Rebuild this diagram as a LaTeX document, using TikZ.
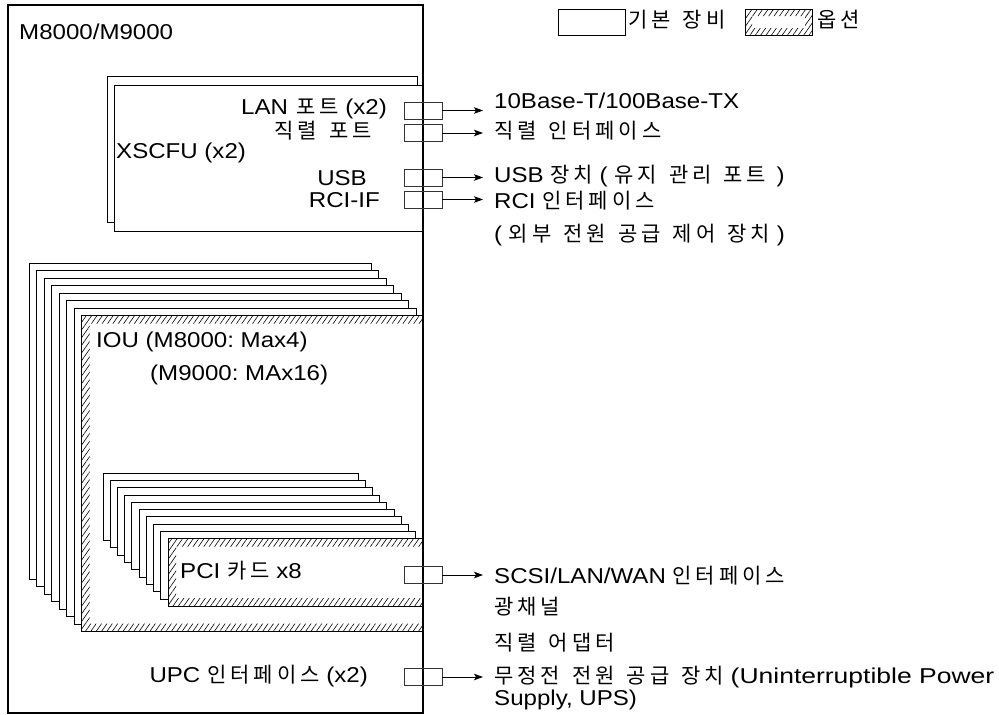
\documentclass[tikz,border=0pt]{standalone}
\usepackage{graphicx}
\usepackage{fontspec}
\setmainfont{Liberation Sans}[FakeStretch=1.12]
\newfontfamily\kfont{Noto Sans CJK KR}[LetterSpace=19]
\newcommand\K[1]{{\kfont\fontsize{21}{25}\selectfont\spaceskip=12pt\relax #1}}
\usetikzlibrary{arrows.meta,patterns.meta}
\begin{document}
\frenchspacing
\begin{tikzpicture}[x=1pt,y=-1pt,
  lbl/.style={inner sep=0pt,font=\fontsize{21.5}{25}\selectfont},
  box/.style={draw=black,line width=0.8pt,fill=white},
  port/.style={draw=black!80,line width=0.8pt,minimum width=38pt,minimum height=17pt,inner sep=0pt},
  conn/.style={line width=0.8pt,-{Stealth[length=9pt,width=6.5pt,inset=2pt]},shorten >=11pt},
  hatch/.style={pattern={Lines[angle=55,distance=4.4pt,line width=0.6pt]},pattern color=black},
]
\useasboundingbox (0,0) rectangle (999,715);
% main enclosure
\draw[box,line width=1.1pt] (8,5) rectangle (423,713);
\node[lbl,anchor=base west] (title) at (19,39) {M8000/M9000};
% legend
\node[draw,line width=0.8pt,minimum width=67pt,minimum height=26pt,inner sep=0pt] (legstd) at (591.5,22) {};
\node[lbl,anchor=base west] (legstdt) at (628,27) {\K{기본 장비}};
\fill[hatch,even odd rule] (745,9) rectangle (812,35) (752,16) rectangle (805,28);
\node[draw,line width=0.8pt,minimum width=67pt,minimum height=26pt,inner sep=0pt] (legopt) at (778.5,22) {};
\node[lbl,anchor=base west] (legoptt) at (817,27) {\K{옵션}};
% XSCFU
\draw[box] (107,76) rectangle (417,222);
\draw[box] (114,85) rectangle (423,231);
\node[lbl,anchor=base east] (lan) at (387,114) {LAN\hspace{8pt}\K{포트} (x2)};
\node[lbl,anchor=base east] (ser) at (372,138) {\K{직렬 포트}};
\node[lbl,anchor=base west] (xscfu) at (116,158) {XSCFU (x2)};
\node[lbl,anchor=base east] (usb) at (367,185) {USB};
\node[lbl,anchor=base east] (rci) at (380,207) {RCI-IF};
% IOU stack
\foreach \i in {0,...,6}{\draw[box] (29+7.5*\i,263+7.5*\i) rectangle ++(342,316);}
\draw[box] (81.5,315.5) rectangle (423,631.5);
\fill[hatch,even odd rule] (81.5,315.5) rectangle (423,631.5) (89.5,323.5) rectangle (423,623.5);
\node[lbl,anchor=base west] (iou1) at (96,347) {IOU (M8000: Max4)};
\node[lbl,anchor=base west] (iou2) at (150,380) {(M9000: MAx16)};
% PCI stack
\foreach \i in {0,...,8}{\draw[box] (103+7.22*\i,473+7.3*\i) rectangle ++(255,67.5);}
\draw[box] (168,538.7) rectangle (423,606.2);
\fill[hatch,even odd rule] (168,538.7) rectangle (423,606.2) (176,546.7) rectangle (423,598.2);
\node[lbl,anchor=base west] (pci) at (180,578) {PCI \K{카드} x8};
\node[lbl,anchor=base east] (upc) at (368,682) {UPC \K{인터페이스} (x2)};
% main right edge on top
\draw[line width=1.1pt] (423,5) -- (423,713);
% ports
\node[port] (pLAN) at (423,110.5) {};
\node[port] (pSER) at (423,133) {};
\node[port] (pUSB) at (423,177.5) {};
\node[port] (pRCI) at (423,199.5) {};
\node[port] (pPCI) at (423,575) {};
\node[port] (pUPC) at (423,677) {};
% external labels
\node[lbl,anchor=base west] (tLAN) at (494,108) {10Base-T/100Base-TX};
\node[lbl,anchor=base west] (tSER) at (494,138) {\K{직렬 인터페이스}};
\node[lbl,anchor=base west] (tUSB) at (494,182) {USB \K{장치} ( \K{유지 관리 포트} \,)};
\node[lbl,anchor=base west] (tRCI) at (494,208) {RCI \K{인터페이스}};
\node[lbl,anchor=base west] (tRCI2) at (494,241) {( \K{외부 전원 공급 제어 장치} )};
\node[lbl,anchor=base west] (tPCI) at (494,583) {SCSI/LAN/WAN \K{인터페이스}};
\node[lbl,anchor=base west] (tPCI2) at (494,614) {\K{광채널}};
\node[lbl,anchor=base west] (tPCI3) at (494,650) {\K{직렬 어댑터}};
\node[lbl,anchor=base west] (tUPC) at (494,683) {\K{무정전 전원 공급 장치} \scalebox{1.1}[1]{(Uninterruptible Power}};
\node[lbl,anchor=base west] (tUPC2) at (494,705) {Supply, UPS)};
% connectors
\draw[conn] (pLAN.east) -- (pLAN.east -| tLAN.west);
\draw[conn] (pSER.east) -- (pSER.east -| tSER.west);
\draw[conn] (pUSB.east) -- (pUSB.east -| tUSB.west);
\draw[conn] (pRCI.east) -- (pRCI.east -| tRCI.west);
\draw[conn] (pPCI.east) -- (pPCI.east -| tPCI.west);
\draw[conn] (pUPC.east) -- (pUPC.east -| tUPC.west);
\end{tikzpicture}
\end{document}
